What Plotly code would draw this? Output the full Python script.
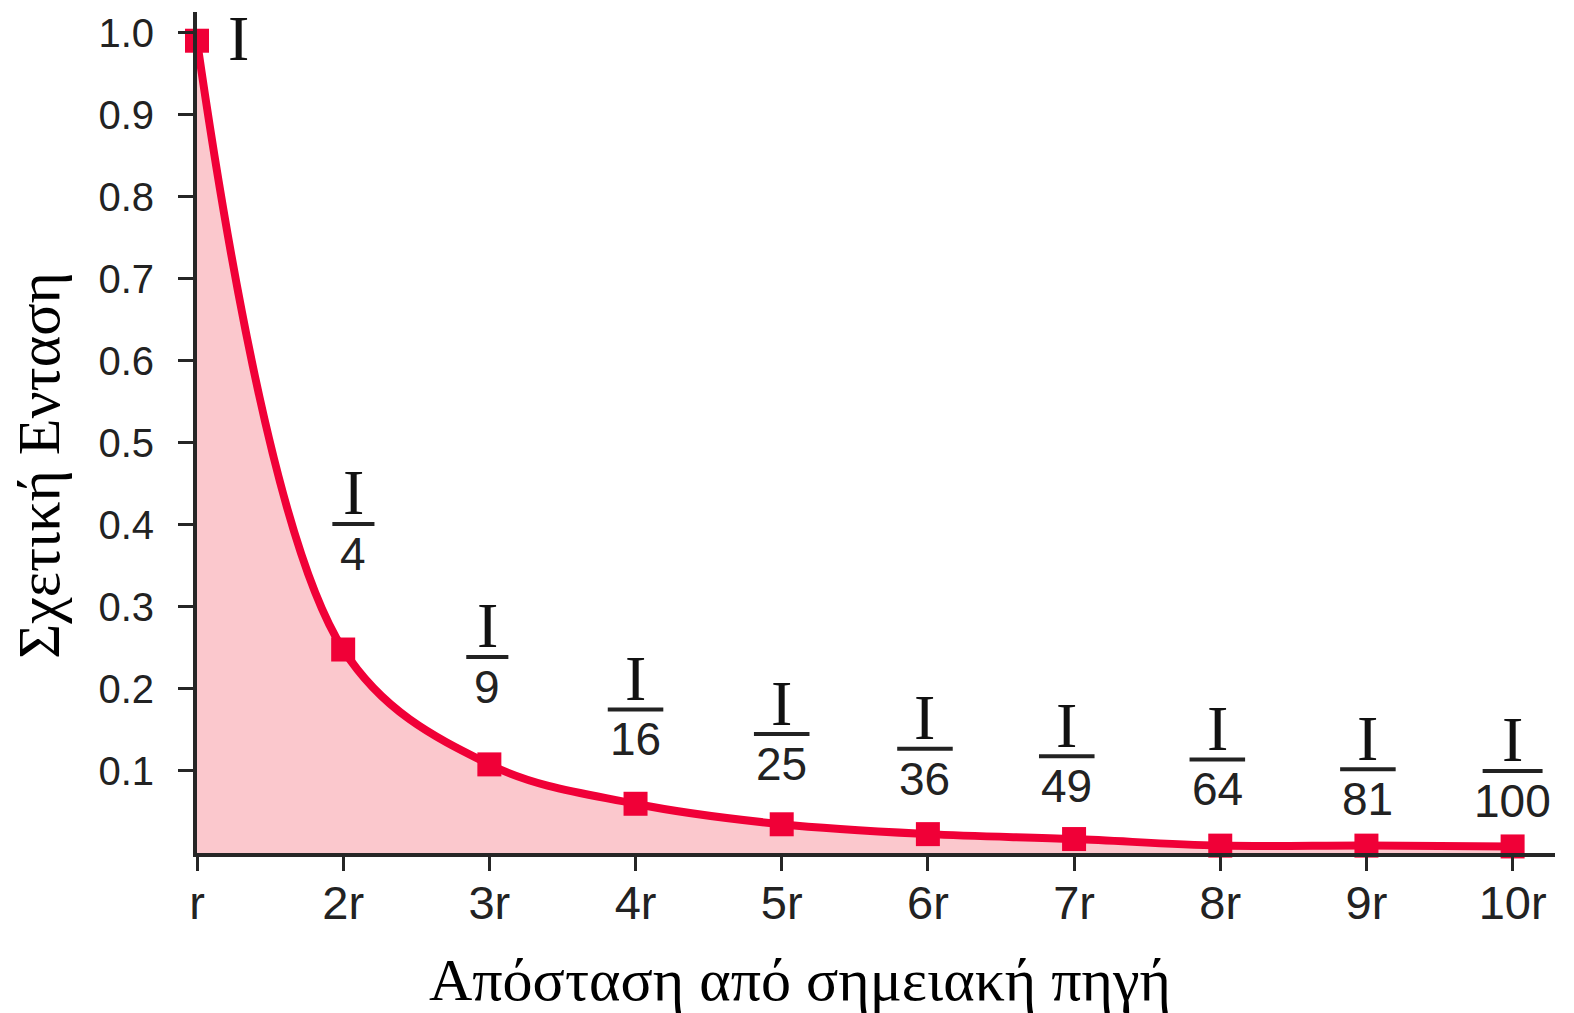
import plotly.graph_objects as go

# ---- data ----
distance = [1, 2, 3, 4, 5, 6, 7, 8, 9, 10]
x_tick_labels = ["r", "2r", "3r", "4r", "5r", "6r", "7r", "8r", "9r", "10r"]
intensity = [0.99, 0.248, 0.108, 0.06, 0.035, 0.023, 0.017, 0.009, 0.009, 0.008]
y_tick_values = [0.1, 0.2, 0.3, 0.4, 0.5, 0.6, 0.7, 0.8, 0.9, 1.0]
y_tick_labels = ["0.1", "0.2", "0.3", "0.4", "0.5", "0.6", "0.7", "0.8", "0.9", "1.0"]
denominators = ["", "4", "9", "16", "25", "36", "49", "64", "81", "100"]
# fraction-bar height of each label (data units) and small horizontal offset
label_y = [None, 0.401, 0.239, 0.175, 0.145, 0.127, 0.118, 0.114, 0.102, 0.100]
label_dx = [0, 0.07, -0.014, 0.0, 0.0, -0.02, -0.05, -0.02, 0.01, 0.0]

RED = "rgb(240,0,55)"
FILL = "rgb(251,200,205)"
AXIS = "#262626"
SERIF = "Liberation Serif, Times New Roman, serif"
SANS = "Liberation Sans, Arial, Helvetica, sans-serif"

fig = go.Figure()
fig.add_trace(go.Scatter(
    x=distance, y=intensity, mode="lines+markers",
    line=dict(color=RED, width=8, shape="spline", smoothing=1.0),
    marker=dict(symbol="square", size=24, color=RED),
    fill="tozeroy", fillcolor=FILL, hoverinfo="skip", showlegend=False,
    cliponaxis=False,
))

annotations = []
shapes = []
# "I" next to the first point
annotations.append(dict(x=distance[0], y=intensity[0], xref="x", yref="y",
                        text="I", showarrow=False, xshift=41, yshift=2,
                        font=dict(family=SERIF, size=64, color="#111")))
for i in range(1, len(distance)):
    cx = distance[i] + label_dx[i]
    cy = label_y[i]
    n = len(denominators[i])
    half = 0.144 if n == 1 else (0.19 if n == 2 else 0.205)
    shapes.append(dict(type="line", xref="x", yref="y", x0=cx - half, x1=cx + half,
                       y0=cy, y1=cy, line=dict(color="#222", width=4)))
    annotations.append(dict(x=cx, y=cy, xref="x", yref="y", text="I", showarrow=False,
                            yshift=31, font=dict(family=SERIF, size=64, color="#111")))
    annotations.append(dict(x=cx, y=cy, xref="x", yref="y", text=denominators[i],
                            showarrow=False, yshift=-30,
                            font=dict(family=SANS, size=46, color="#222")))

# axis titles
annotations.append(dict(x=0.444, y=-0.151, xref="paper", yref="paper",
                        text="Απόσταση από σημειακή πηγή", showarrow=False,
                        xanchor="center", yanchor="middle",
                        font=dict(family=SERIF, size=60, color="#000")))
annotations.append(dict(x=-0.116, y=0.461, xref="paper", yref="paper",
                        text="Σχετική Ενταση", showarrow=False, textangle=-90,
                        xanchor="center", yanchor="middle",
                        font=dict(family=SERIF, size=60, color="#000")))

fig.update_layout(
    width=1574, height=1013,
    margin=dict(l=197, r=19, t=12, b=160),
    plot_bgcolor="white", paper_bgcolor="white",
    annotations=annotations, shapes=shapes,
    xaxis=dict(range=[1, 10.29], tickvals=distance, ticktext=x_tick_labels,
               showgrid=False, zeroline=False, showline=True, linecolor=AXIS,
               linewidth=4, ticks="outside", ticklen=14, tickwidth=3, tickcolor=AXIS,
               ticklabelstandoff=-8,
               tickfont=dict(family=SANS, size=47, color="#222")),
    yaxis=dict(range=[0, 1.025], tickvals=y_tick_values, ticktext=y_tick_labels,
               showgrid=False, zeroline=False, showline=True, linecolor=AXIS,
               linewidth=4, ticks="outside", ticklen=15, tickwidth=3, tickcolor=AXIS,
               ticklabelstandoff=16,
               tickfont=dict(family=SANS, size=40, color="#222")),
)

fig.write_html("out.html", post_script="document.body.style.margin='0';",
               config={"displayModeBar": False})
